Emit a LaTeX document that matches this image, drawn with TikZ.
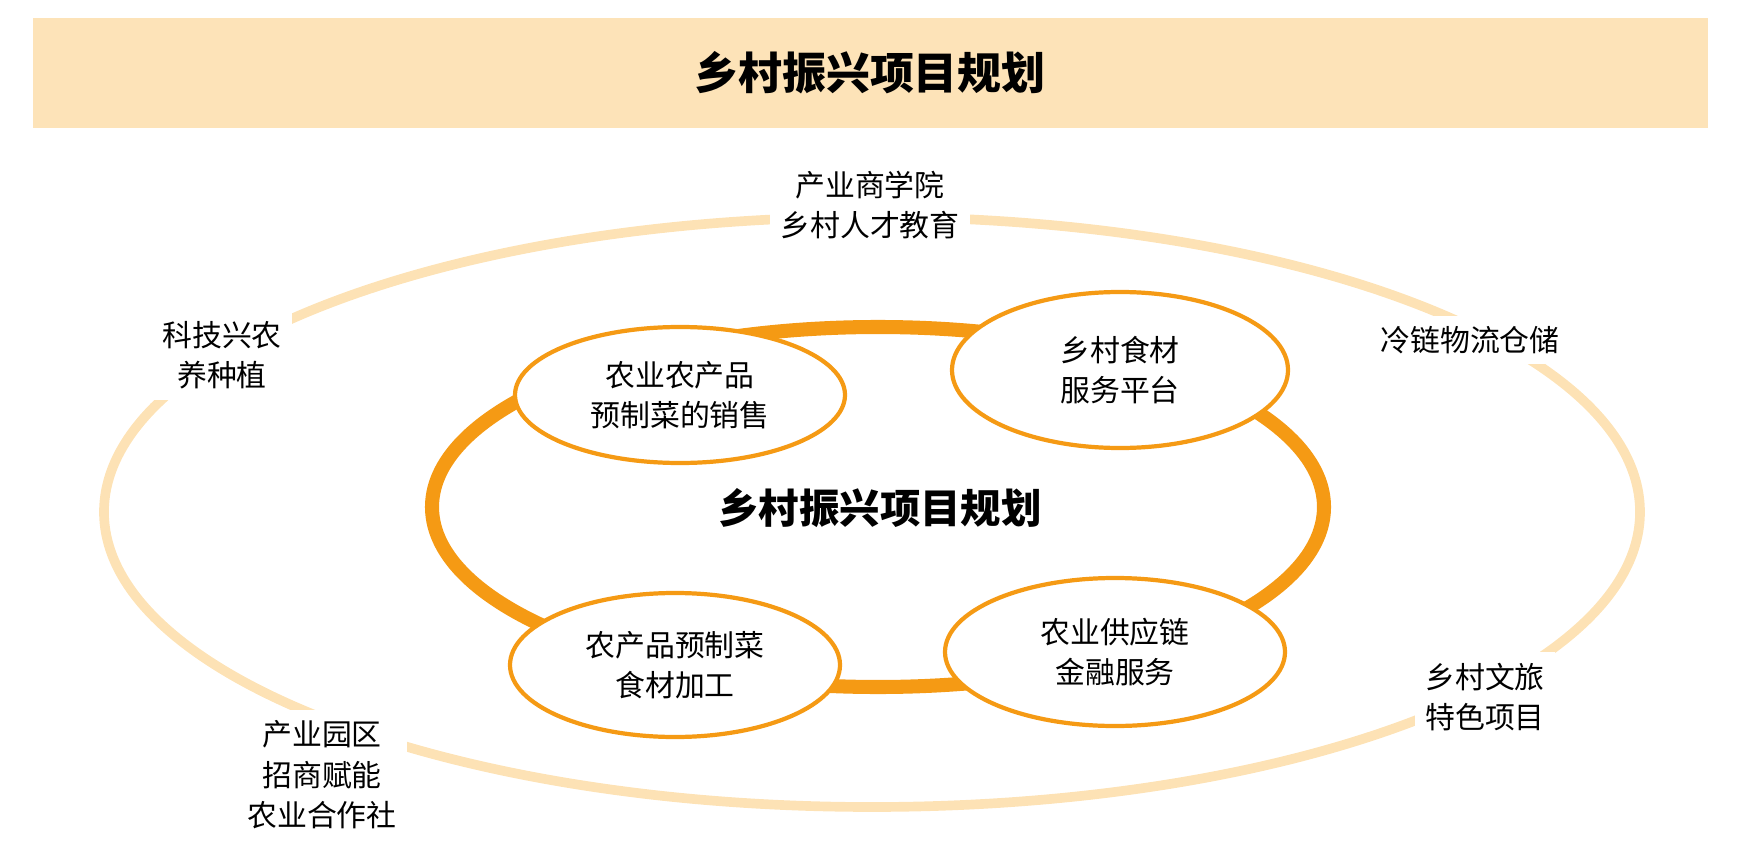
\documentclass[tikz,border=0pt]{standalone}
\usepackage{fontspec}
\setmainfont{Noto Sans CJK SC}
\definecolor{band}{HTML}{FDE3B8}
\definecolor{outerc}{HTML}{FDE2B5}
\definecolor{ring}{HTML}{F59A14}
\begin{document}
\begin{tikzpicture}[x=0.02cm,y=-0.02cm,
  lbl/.style={align=center,font=\fontsize{17}{23}\selectfont,fill=white,inner sep=6pt},
  sub/.style={draw=ring,line width=2.4pt,fill=white,ellipse},
  subtxt/.style={align=center,font=\fontsize{17}{23}\selectfont}]
\useasboundingbox (0,0) rectangle (1751,858);
\fill[band] (33,18) rectangle (1708,128);
\node (title) at (870,73) {\fontsize{25}{30}\selectfont\bfseries 乡村振兴项目规划};
\draw[outerc,line width=5.5pt] (872,512) ellipse [x radius=768, y radius=295];
\draw[ring,line width=8pt] (878,507) ellipse [x radius=446, y radius=180];
\node (c) at (880,508) {\fontsize{23}{28}\selectfont\bfseries 乡村振兴项目规划};
\foreach \n/\x/\y/\rx/\ry in {a/680/395/165/68, b/1120/370/168/78, d/675/665/165/72, e/1115/652/170/74}
  \draw[ring,line width=2.4pt,fill=white] (\x,\y) ellipse [x radius=\rx, y radius=\ry];
\node[subtxt] (a) at (680,395) {农业农产品\\预制菜的销售};
\node[subtxt] (b) at (1120,370) {乡村食材\\服务平台};
\node[subtxt] (d) at (675,665) {农产品预制菜\\食材加工};
\node[subtxt] (e) at (1115,652) {农业供应链\\金融服务};
\node[lbl] (o1) at (870,205) {产业商学院\\乡村人才教育};
\node[lbl] (o2) at (222,355) {科技兴农\\养种植};
\node[lbl] (o3) at (1470,340) {冷链物流仓储};
\node[lbl] (o4) at (1485,697) {乡村文旅\\特色项目};
\node[lbl] (o5) at (322,775) {产业园区\\招商赋能\\农业合作社};
\end{tikzpicture}
\end{document}
